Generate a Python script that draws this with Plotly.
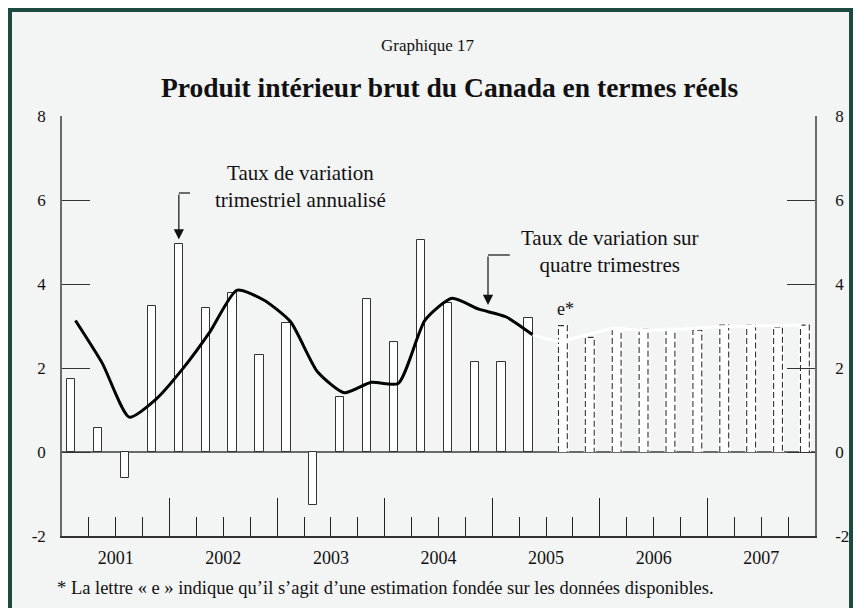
import plotly.graph_objects as go

# ---------------- data ----------------
years = ["2001", "2002", "2003", "2004", "2005", "2006", "2007"]
quarters = [f"{y}T{q}" for y in years for q in (1, 2, 3, 4)]

# Quarterly annualized growth (actual), 2001T1 - 2005T2
quarterly_actual = [1.75, 0.58, -0.61, 3.47, 4.96, 3.44, 3.78, 2.31, 3.07, -1.25,
                    1.31, 3.65, 2.62, 5.04, 3.54, 2.14, 2.14, 3.20]
# Quarterly annualized growth (estimate), 2005T3 - 2007T4
quarterly_estimate = [3.01, 2.73, 2.92, 2.92, 2.92, 2.90, 3.02, 3.02, 2.98, 3.02]

# Four-quarter growth (actual), 2001T1 - 2005T2
four_quarter_actual = [3.13, 2.11, 0.83, 1.26, 1.99, 2.86, 3.85, 3.62, 3.10, 1.91,
                       1.41, 1.66, 1.63, 3.14, 3.66, 3.40, 3.22, 2.79]
# Four-quarter growth (estimate), 2005T3 - 2007T4
four_quarter_estimate = [2.64, 2.79, 2.94, 2.90, 2.91, 2.94, 2.98, 3.00, 3.01, 3.02]

ytick_vals = [-2, 0, 2, 4, 6, 8]
ytick_text = ["-2", "0", "2", "4", "6", "8"]

# ---------------- layout helpers ----------------
FONT = "Liberation Serif, Times New Roman, serif"
n_act = len(quarterly_actual)
idx_act = list(range(n_act))
idx_est = list(range(n_act, n_act + len(quarterly_estimate)))

BAR_OFF, BAR_W = 0.19, 0.31
EST_OFF, EST_W = 0.46, 0.33

ML, MR, MT, MB = 62, 41, 116, 72
W, H = 856, 608
PW, PH = W - ML - MR, H - MT - MB


def px(x):
    return (x - ML) / PW


def py(y):
    return (H - MB - y) / PH


def dx(x):
    return (x - ML) / PW * len(quarters)


def dy(y):
    return (H - MB - y) / PH * 10 - 2


fig = go.Figure()

# actual quarterly bars
fig.add_trace(go.Bar(
    x=idx_act, y=quarterly_actual, offset=BAR_OFF, width=BAR_W,
    marker=dict(color="white", line=dict(color="#333333", width=1)),
    hovertext=quarters[:n_act], showlegend=False))

# estimated quarterly bars (white fill)
fig.add_trace(go.Bar(
    x=idx_est, y=quarterly_estimate, offset=EST_OFF, width=EST_W,
    marker=dict(color="white", line=dict(width=0)),
    hovertext=quarters[n_act:], showlegend=False))

# outlines of estimated bars: white solid underneath, dark dashes on top
ox, oy = [], []
for i, v in zip(idx_est, quarterly_estimate):
    x0, x1 = i + EST_OFF, i + EST_OFF + EST_W
    ox += [x0, x0, x1, x1, None]
    oy += [0, v, v, 0, None]
fig.add_trace(go.Scatter(
    x=ox, y=oy, mode="lines", line=dict(color="white", width=3),
    hoverinfo="skip", showlegend=False))
fig.add_trace(go.Scatter(
    x=ox, y=oy, mode="lines", line=dict(color="#333333", width=1.1, dash="6px,3px"),
    hoverinfo="skip", showlegend=False))

# four-quarter growth lines (on overlay axis x2, drawn on top)
fig.add_trace(go.Scatter(
    x=[i + 0.5 for i in idx_act], y=four_quarter_actual, xaxis="x2", yaxis="y",
    mode="lines", line=dict(color="black", width=3, shape="spline", smoothing=0.6),
    showlegend=False))
fig.add_trace(go.Scatter(
    x=[i + 0.5 for i in [idx_act[-1]] + idx_est],
    y=[four_quarter_actual[-1]] + four_quarter_estimate, xaxis="x2", yaxis="y",
    mode="lines", line=dict(color="white", width=3, shape="spline", smoothing=0.6),
    showlegend=False))

# invisible trace so that the right-hand axis is drawn
fig.add_trace(go.Scatter(x=[0], y=[0], xaxis="x", yaxis="y2", mode="markers",
                         marker=dict(opacity=0), hoverinfo="skip", showlegend=False))

year_bounds = [4 * k for k in range(1, len(years))]
quarter_bounds = list(range(1, len(quarters)))
year_mids = [4 * k + 2 for k in range(len(years))]

AX_GREY = "#6a6a6a"
fig.update_layout(
    width=W, height=H,
    margin=dict(l=ML, r=MR, t=MT, b=MB, autoexpand=False),
    paper_bgcolor="white",
    plot_bgcolor="rgba(0,0,0,0)",
    font=dict(family=FONT, color="#111111", size=16),
    bargap=0,
    xaxis=dict(
        range=[0, len(quarters)], showgrid=False, zeroline=False,
        showline=True, linecolor="#333333", linewidth=1.5,
        tickmode="array", tickvals=year_bounds, ticks="inside", ticklen=38,
        tickcolor="#222222", tickwidth=1, showticklabels=False,
        minor=dict(tickmode="array", tickvals=quarter_bounds, ticks="inside",
                   ticklen=19, tickcolor="#222222", tickwidth=1, showgrid=False),
        fixedrange=True),
    xaxis2=dict(
        overlaying="x", anchor="y", side="bottom",
        range=[0, len(quarters)], showgrid=False, zeroline=False, showline=False,
        tickmode="array", tickvals=year_mids, ticktext=years, ticks="",
        tickfont=dict(family=FONT, size=18, color="#111111"),
        ticklabelstandoff=9),
    yaxis=dict(
        range=[-2, 8], showgrid=False,
        zeroline=True, zerolinecolor=AX_GREY, zerolinewidth=1.5,
        showline=True, linecolor=AX_GREY, linewidth=1.5,
        tickmode="array", tickvals=ytick_vals, ticktext=ytick_text,
        ticks="inside", ticklen=28, tickcolor="#333333", tickwidth=1,
        tickfont=dict(family=FONT, size=17, color="#111111"),
        ticklabelstandoff=11),
    yaxis2=dict(
        overlaying="y", side="right", anchor="x",
        range=[-2, 8], showgrid=False, zeroline=False,
        showline=True, linecolor=AX_GREY, linewidth=1.5,
        tickmode="array", tickvals=ytick_vals, ticktext=ytick_text,
        ticks="inside", ticklen=28, tickcolor="#333333", tickwidth=1,
        tickfont=dict(family=FONT, size=17, color="#111111"),
        ticklabelstandoff=15),
)

# frame
fig.add_shape(type="rect", xref="paper", yref="paper",
              x0=px(10), x1=px(851), y0=py(614), y1=py(10),
              line=dict(color="#1d4a40", width=4), fillcolor="#f3f4f4",
              layer="below")

# titles & footnote
fig.add_annotation(text="Graphique 17", xref="paper", yref="paper",
                   x=px(428), y=py(46), showarrow=False,
                   font=dict(family=FONT, size=17, color="#111111"),
                   xanchor="center", yanchor="middle")
fig.add_annotation(text="<b>Produit intérieur brut du Canada en termes réels</b>",
                   xref="paper", yref="paper", x=px(450), y=py(87), showarrow=False,
                   font=dict(family=FONT, size=27.5, color="#111111"),
                   xanchor="center", yanchor="middle")
fig.add_annotation(
    text="* La lettre « e » indique qu’il s’agit d’une estimation fondée sur les données disponibles.",
    xref="paper", yref="paper", x=px(55), y=py(588), showarrow=False,
    font=dict(family=FONT, size=18.5, color="#111111"),
    xanchor="left", yanchor="middle")

# series labels
fig.add_annotation(text="Taux de variation<br>trimestriel annualisé",
                   x=dx(300), y=dy(186),
                   showarrow=False, font=dict(family=FONT, size=21, color="#111111"),
                   xanchor="center", yanchor="middle")
fig.add_annotation(text="Taux de variation sur<br>quatre trimestres",
                   x=dx(610), y=dy(251),
                   showarrow=False, font=dict(family=FONT, size=21, color="#111111"),
                   xanchor="center", yanchor="middle")
fig.add_annotation(text="e*", x=idx_est[0] + EST_OFF + EST_W / 2 + 0.1,
                   y=quarterly_estimate[0] + 0.4, showarrow=False,
                   font=dict(family=FONT, size=18, color="#111111"),
                   xanchor="center", yanchor="middle")

# arrow 1 (to 2002T1 bar)
a1x = 4 + BAR_OFF + BAR_W / 2
a1tip = quarterly_actual[4] + 0.1
a1tail = dy(193)
fig.add_annotation(x=a1x, y=a1tip, ax=a1x, ay=a1tail, axref="x", ayref="y",
                   text="", showarrow=True, arrowhead=2, arrowsize=1.7,
                   arrowwidth=1.2, arrowcolor="#111111", standoff=0)
fig.add_shape(type="line", x0=a1x, x1=dx(190), y0=a1tail, y1=a1tail,
              line=dict(color="#111111", width=1.2))

# arrow 2 (to four-quarter line)
a2x = dx(488)
a2tip = dy(305)
a2tail = dy(255)
fig.add_annotation(x=a2x, y=a2tip, ax=a2x, ay=a2tail, axref="x", ayref="y",
                   text="", showarrow=True, arrowhead=2, arrowsize=1.7,
                   arrowwidth=1.2, arrowcolor="#111111", standoff=0)
fig.add_shape(type="line", x0=a2x, x1=dx(510), y0=a2tail, y1=a2tail,
              line=dict(color="#111111", width=1.2))

fig.write_html("out.html", config={"displayModeBar": False},
               post_script="document.body.style.margin='0px';")
